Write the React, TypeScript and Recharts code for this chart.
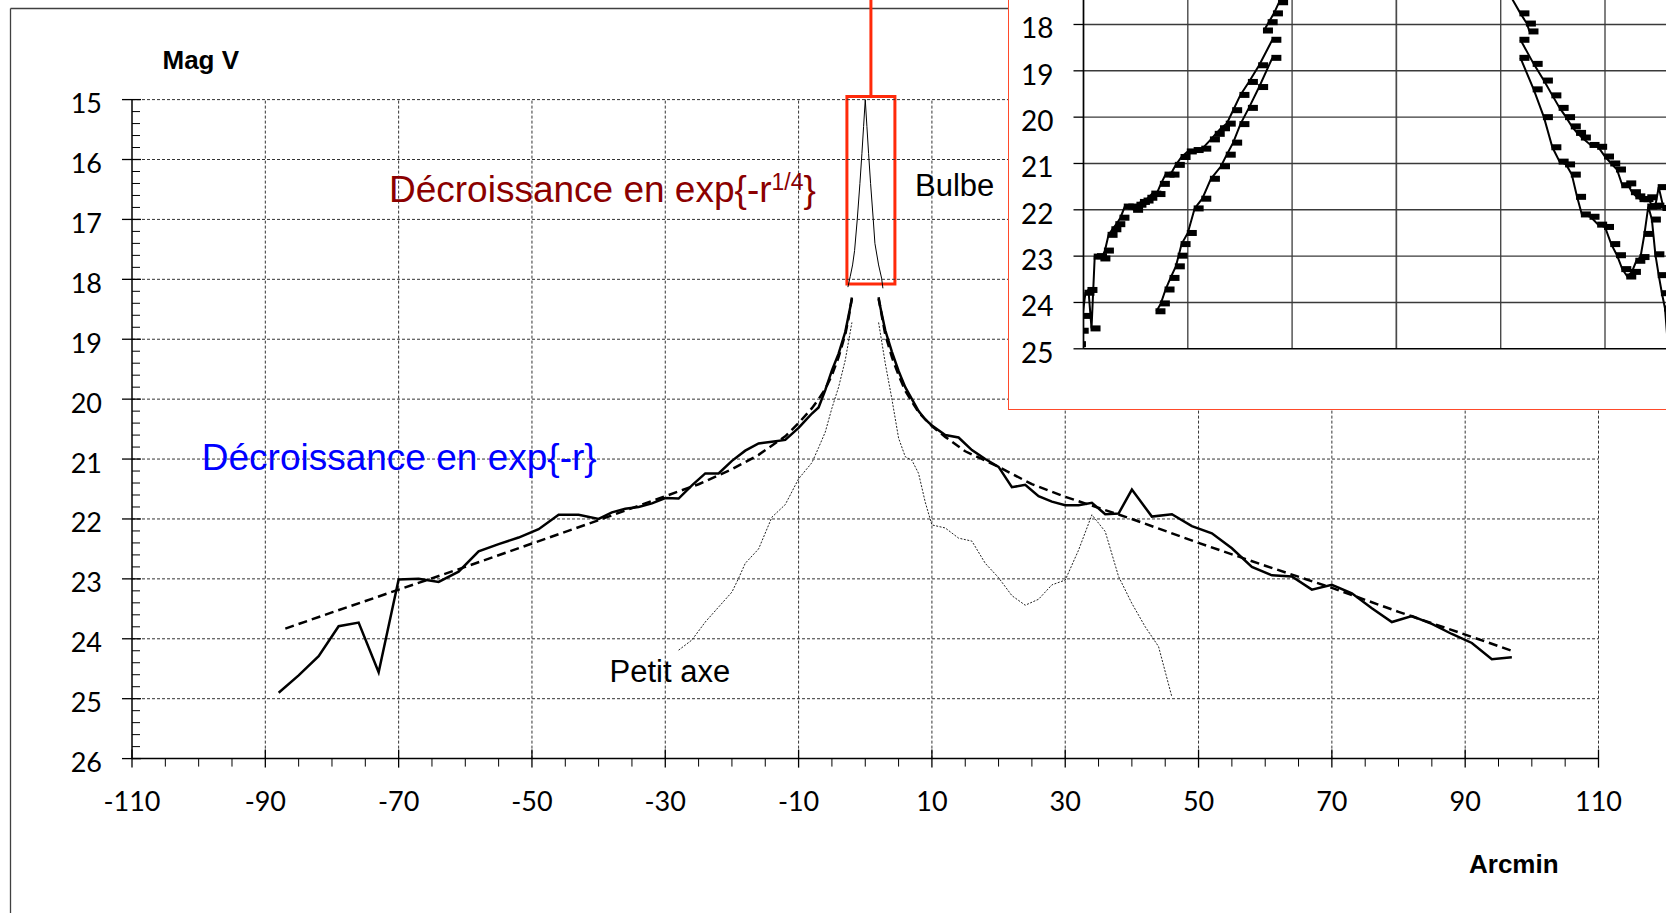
import React from 'react';
import { ComposedChart, Line, XAxis, YAxis, ReferenceLine, ReferenceArea, CartesianGrid } from 'recharts';

// Profils de brillance (magnitude V) en fonction de la distance au centre (arcmin)
const majorAxisLeft: [number, number][] = [
  [-88, 24.9], [-85, 24.61], [-82, 24.29], [-79, 23.79], [-76, 23.73], [-73, 24.56],
  [-70, 23.01], [-67, 23.0], [-64, 23.05], [-61, 22.88], [-58, 22.54], [-55, 22.42],
  [-52, 22.31], [-49, 22.17], [-46, 21.93], [-43, 21.93], [-40, 22.0], [-38, 21.89],
  [-36, 21.83], [-34, 21.8], [-32, 21.74], [-30, 21.65], [-28, 21.66], [-26, 21.44],
  [-24, 21.24], [-22, 21.24], [-20, 21.03], [-18, 20.86], [-16, 20.74], [-14, 20.71],
  [-12, 20.68], [-10, 20.48], [-9, 20.36], [-8, 20.24], [-7, 20.14], [-6, 19.85],
  [-5, 19.52], [-4, 19.24], [-3, 18.88], [-2, 18.33],
];
const majorAxisRight: [number, number][] = [
  [2, 18.33], [3, 18.85], [4, 19.21], [5, 19.53], [6, 19.8], [7, 20.0], [8, 20.2],
  [9, 20.34], [10, 20.44], [12, 20.6], [14, 20.64], [16, 20.85], [18, 21.0], [20, 21.13],
  [22, 21.47], [24, 21.43], [26, 21.62], [28, 21.71], [30, 21.77], [32, 21.77], [34, 21.73],
  [36, 21.92], [38, 21.91], [40, 21.51], [43, 21.96], [46, 21.92], [49, 22.12], [52, 22.24],
  [55, 22.49], [58, 22.8], [61, 22.94], [64, 22.96], [67, 23.18], [70, 23.1], [73, 23.24],
  [76, 23.49], [79, 23.72], [82, 23.62], [85, 23.75], [88, 23.92], [91, 24.07], [94, 24.34],
  [97, 24.31],
];
const expFitLeft: [number, number][] = [
  [-87, 23.83], [-80, 23.56], [-70, 23.18], [-60, 22.8], [-50, 22.41], [-40, 22.02],
  [-30, 21.62], [-25, 21.42], [-20, 21.17], [-16, 20.93], [-12, 20.62], [-10, 20.4],
  [-8, 20.15], [-7, 20.0], [-6, 19.83], [-5, 19.6], [-4, 19.3], [-3, 18.92], [-2.5, 18.65],
  [-2, 18.3],
];
const expFitRight: [number, number][] = [
  [2, 18.3], [2.5, 18.62], [3, 18.92], [4, 19.3], [5, 19.6], [6, 19.86], [8, 20.22],
  [10, 20.45], [12, 20.63], [15, 20.87], [20, 21.13], [25, 21.42], [30, 21.63], [40, 22.0],
  [50, 22.4], [60, 22.78], [70, 23.15], [80, 23.55], [90, 23.93], [97, 24.2],
];
const minorAxisLeft: [number, number][] = [
  [-28, 24.19], [-26, 24.02], [-24, 23.72], [-22, 23.47], [-20, 23.22], [-19, 22.99],
  [-18, 22.74], [-16, 22.5], [-14, 21.97], [-12, 21.76], [-10, 21.33], [-8, 21.06],
  [-7, 20.81], [-6, 20.55], [-5, 20.15], [-4, 19.8], [-3, 19.35], [-2, 18.72],
];
const minorAxisRight: [number, number][] = [
  [2, 18.72], [3, 19.4], [4, 20.0], [5, 20.65], [6, 20.96], [7, 21.02], [8, 21.24],
  [9, 21.72], [10, 22.1], [12, 22.15], [14, 22.32], [16, 22.37], [18, 22.74], [20, 22.98],
  [22, 23.28], [24, 23.44], [26, 23.34], [28, 23.1], [30, 23.02], [32, 22.52], [34, 21.93],
  [36, 22.21], [38, 22.96], [40, 23.41], [42, 23.8], [44, 24.13], [46, 24.97],
];
const bulgeCore: [number, number][] = [
  [-2.6, 18.13], [-2.25, 17.95], [-1.9, 17.76], [-1.6, 17.52], [-1.2, 17.0], [-0.8, 16.4],
  [-0.5, 15.9], [-0.25, 15.45], [0, 15.0], [0.25, 15.45], [0.5, 15.9], [0.8, 16.4],
  [1.2, 17.0], [1.45, 17.4], [2.0, 17.76], [2.45, 17.98], [2.65, 18.15],
];

const yLabels = [15, 16, 17, 18, 19, 20, 21, 22, 23, 24, 25, 26];
const xLabels = [-110, -90, -70, -50, -30, -10, 10, 30, 50, 70, 90, 110];
const insetYLabels = [18, 19, 20, 21, 22, 23, 24, 25];
const insetXGrid = [-3, -2, -1, 0, 1, 2, 3];

// zone agrandie dans l'encart
const zoomBox = { x1: -2.75, x2: 4.45, y1: 14.95, y2: 18.08, lineX: 0.85 };

const yTicks = Array.from({ length: 56 }, (_, i) => +(15 + i * 0.2).toFixed(1));
const xTicks = Array.from({ length: 45 }, (_, i) => -110 + i * 5);

const toMain = (pts: [number, number][]) => pts.map(([r, m]) => ({ x: r, y: m }));
// l'encart est tracé en fonction de r^(1/4)
const toInset = (pts: [number, number][]) =>
  pts.map(([r, m]) => ({ x: Math.sign(r) * Math.pow(Math.abs(r), 0.25), y: m }));

const TICK_FONT = 'Lato, "Open Sans", sans-serif';
const TEXT_FONT = '"Liberation Sans", Arial, sans-serif';

// géométrie de l'encart
const INSET_W = 897;
const INSET_H = 607;
const INSET_M = { top: 84.5, right: 196.7, left: 0, bottom: 0 };
const INSET_YAXIS_W = 74.5;
const INSET_XAXIS_H = 59.2;

function MainYTick({ x, y, payload }: any) {
  const v = payload.value;
  const major = Math.abs(v - Math.round(v)) < 1e-6;
  if (!major) return <line x1={x} x2={x + 8} y1={y} y2={y} stroke="#000" strokeWidth={1} />;
  return (
    <g>
      <line x1={x - 10} x2={x + 9} y1={y} y2={y} stroke="#000" strokeWidth={1.3} />
      <text x={x - 30} y={y + 13.5} textAnchor="end" fontFamily={TICK_FONT} fontSize={27} fill="#000">
        {Math.round(v)}
      </text>
    </g>
  );
}

function MainXTick({ x, y, payload }: any) {
  const v = payload.value;
  const major = (v + 110) % 20 === 0;
  if (!major) return <line x1={x} x2={x} y1={y} y2={y + 8} stroke="#000" strokeWidth={1} />;
  return (
    <g>
      <line x1={x} x2={x} y1={y - 9} y2={y + 9} stroke="#000" strokeWidth={1.3} />
      <text x={x} y={y + 52} textAnchor="middle" fontFamily={TICK_FONT} fontSize={27} fill="#000">
        {v}
      </text>
    </g>
  );
}

function InsetYTick({ x, y, payload }: any) {
  return (
    <g>
      <line x1={x - 10} x2={x} y1={y} y2={y} stroke="#000" strokeWidth={1.3} />
      <text x={x - 30} y={y + 14} textAnchor="end" fontFamily={TICK_FONT} fontSize={28} fill="#000">
        {payload.value}
      </text>
    </g>
  );
}

const marker = (p: any) => {
  if (p.cx == null || p.cy == null) return <g key={`m-${p.index}`} />;
  return <rect key={`m-${p.index}`} x={p.cx - 1} y={p.cy - 3} width={10} height={6} fill="#000" />;
};

export default function App() {
  const gridY = yLabels.slice(0, -1);
  const gridX = xLabels.slice(1);

  // ligne verticale s = 0 de l'encart (absente du rendu de la grille)
  const plotW = INSET_W - INSET_YAXIS_W - INSET_M.right;
  const plotBottom = INSET_H - INSET_XAXIS_H;
  const centerX = INSET_YAXIS_W + plotW * ((0 - insetXGrid[0]) / (insetXGrid[insetXGrid.length - 1] - insetXGrid[0]));

  return (
    <div style={{ position: 'fixed', left: 0, top: 0, width: 1666, height: 913, overflow: 'hidden', background: '#fff' }}>
      <svg width={1666} height={913} style={{ position: 'absolute', left: 0, top: 0 }}>
        <line x1={10.5} y1={8.5} x2={1666} y2={8.5} stroke="#404040" strokeWidth={1.3} />
        <line x1={10.5} y1={8.5} x2={10.5} y2={913} stroke="#404040" strokeWidth={1.3} />
      </svg>

      <div style={{ position: 'absolute', left: 0, top: 0 }}>
        <ComposedChart width={1666} height={913} margin={{ top: 99.6, right: 67.5, left: 0, bottom: 0 }}>
          <XAxis
            type="number"
            dataKey="x"
            domain={[-110, 110]}
            ticks={xTicks}
            interval={0}
            height={154.4}
            tickSize={0}
            tickMargin={0}
            tickLine={false}
            axisLine={{ stroke: '#000', strokeWidth: 1.5 }}
            tick={(p: any) => <MainXTick {...p} />}
          />
          <YAxis
            type="number"
            domain={[15, 26]}
            reversed
            ticks={yTicks}
            interval={0}
            width={132}
            tickSize={0}
            tickMargin={0}
            tickLine={false}
            axisLine={{ stroke: '#000', strokeWidth: 1.5 }}
            tick={(p: any) => <MainYTick {...p} />}
          />
          {gridY.map((v) => (
            <ReferenceLine key={`gy-${v}`} y={v} stroke="#333" strokeWidth={1} strokeDasharray="3 2" />
          ))}
          {gridX.map((v) => (
            <ReferenceLine key={`gx-${v}`} x={v} stroke="#333" strokeWidth={1} strokeDasharray="3 2" />
          ))}
          <Line data={toMain(minorAxisLeft)} dataKey="y" type="linear" stroke="#222" strokeWidth={1} strokeDasharray="2 1.5" dot={false} activeDot={false} isAnimationActive={false} />
          <Line data={toMain(minorAxisRight)} dataKey="y" type="linear" stroke="#222" strokeWidth={1} strokeDasharray="2 1.5" dot={false} activeDot={false} isAnimationActive={false} />
          <Line data={toMain(bulgeCore)} dataKey="y" type="linear" stroke="#000" strokeWidth={1} dot={false} activeDot={false} isAnimationActive={false} />
          <Line data={toMain(expFitLeft)} dataKey="y" type="linear" stroke="#000" strokeWidth={2.5} strokeDasharray="9 5" dot={false} activeDot={false} isAnimationActive={false} />
          <Line data={toMain(expFitRight)} dataKey="y" type="linear" stroke="#000" strokeWidth={2.5} strokeDasharray="9 5" dot={false} activeDot={false} isAnimationActive={false} />
          <Line data={toMain(majorAxisLeft)} dataKey="y" type="linear" stroke="#000" strokeWidth={2.5} dot={false} activeDot={false} isAnimationActive={false} />
          <Line data={toMain(majorAxisRight)} dataKey="y" type="linear" stroke="#000" strokeWidth={2.5} dot={false} activeDot={false} isAnimationActive={false} />
          <ReferenceArea
            x1={zoomBox.x1}
            x2={zoomBox.x2}
            y1={zoomBox.y1}
            y2={zoomBox.y2}
            ifOverflow="visible"
            fill="none"
            fillOpacity={0}
            stroke="#ff2a0a"
            strokeWidth={3}
          />
          <ReferenceLine
            segment={[{ x: zoomBox.lineX, y: zoomBox.y1 }, { x: zoomBox.lineX, y: 13 }]}
            ifOverflow="visible"
            stroke="#ff2a0a"
            strokeWidth={3}
          />
        </ComposedChart>
      </div>

      <svg width={1666} height={913} style={{ position: 'absolute', left: 0, top: 0, pointerEvents: 'none' }}>
        <text x={162.5} y={69.3} fontFamily={TEXT_FONT} fontWeight="bold" fontSize={26} fill="#000">Mag V</text>
        <text x={1469} y={873.3} fontFamily={TEXT_FONT} fontWeight="bold" fontSize={26} fill="#000">Arcmin</text>
        <text x={389} y={201.5} fontFamily={TEXT_FONT} fontSize={37} fill="#8b0000">
          <tspan>Décroissance en exp{'{'}-r</tspan>
          <tspan dy={-12} fontSize={23}>1/4</tspan>
          <tspan dy={12} fontSize={37}>{'}'}</tspan>
        </text>
        <text x={201.8} y={469.5} fontFamily={TEXT_FONT} fontSize={37} fill="#0000ff">Décroissance en exp{'{'}-r{'}'}</text>
        <text x={915} y={196} fontFamily={TEXT_FONT} fontSize={31} fill="#000">Bulbe</text>
        <text x={609.6} y={681.7} fontFamily={TEXT_FONT} fontSize={31} fill="#000">Petit axe</text>
      </svg>

      <div
        style={{
          position: 'absolute',
          left: 1008,
          top: -200,
          width: 900,
          height: 610,
          border: '1.5px solid #ff4a2a',
          boxSizing: 'border-box',
          background: '#fff',
        }}
      >
        <svg width={INSET_W} height={INSET_H} style={{ position: 'absolute', left: 0, top: 0 }}>
          <line x1={centerX} x2={centerX} y1={0} y2={plotBottom} stroke="#4a4a4a" strokeWidth={1.4} />
        </svg>
        <div style={{ position: 'absolute', left: 0, top: 0 }}>
          <ComposedChart width={INSET_W} height={INSET_H} margin={INSET_M}>
            <CartesianGrid horizontal={false} vertical stroke="#4a4a4a" strokeWidth={1.4} />
            <XAxis
              type="number"
              dataKey="x"
              domain={[-3, 3]}
              ticks={insetXGrid}
              interval={0}
              allowDataOverflow
              height={INSET_XAXIS_H}
              tickLine={false}
              tick={() => <g />}
              axisLine={{ stroke: '#000', strokeWidth: 1.5 }}
            />
            <YAxis
              type="number"
              domain={[15, 25]}
              reversed
              ticks={insetYLabels}
              interval={0}
              width={INSET_YAXIS_W}
              tickSize={0}
              tickMargin={0}
              tickLine={false}
              axisLine={{ stroke: '#000', strokeWidth: 1.5 }}
              tick={(p: any) => <InsetYTick {...p} />}
            />
            {insetYLabels.slice(0, -1).map((v) => (
              <ReferenceLine key={`iy-${v}`} y={v} stroke="#3a3a3a" strokeWidth={1.4} />
            ))}
            <Line data={toInset(majorAxisLeft)} dataKey="y" type="linear" stroke="#000" strokeWidth={2} dot={marker} activeDot={false} isAnimationActive={false} />
            <Line data={toInset(majorAxisRight)} dataKey="y" type="linear" stroke="#000" strokeWidth={2} dot={marker} activeDot={false} isAnimationActive={false} />
            <Line data={toInset(minorAxisLeft)} dataKey="y" type="linear" stroke="#000" strokeWidth={2} dot={marker} activeDot={false} isAnimationActive={false} />
            <Line data={toInset(minorAxisRight)} dataKey="y" type="linear" stroke="#000" strokeWidth={2} dot={marker} activeDot={false} isAnimationActive={false} />
            <Line data={toInset(bulgeCore)} dataKey="y" type="linear" stroke="#000" strokeWidth={2} dot={marker} activeDot={false} isAnimationActive={false} />
          </ComposedChart>
        </div>
      </div>
    </div>
  );
}
